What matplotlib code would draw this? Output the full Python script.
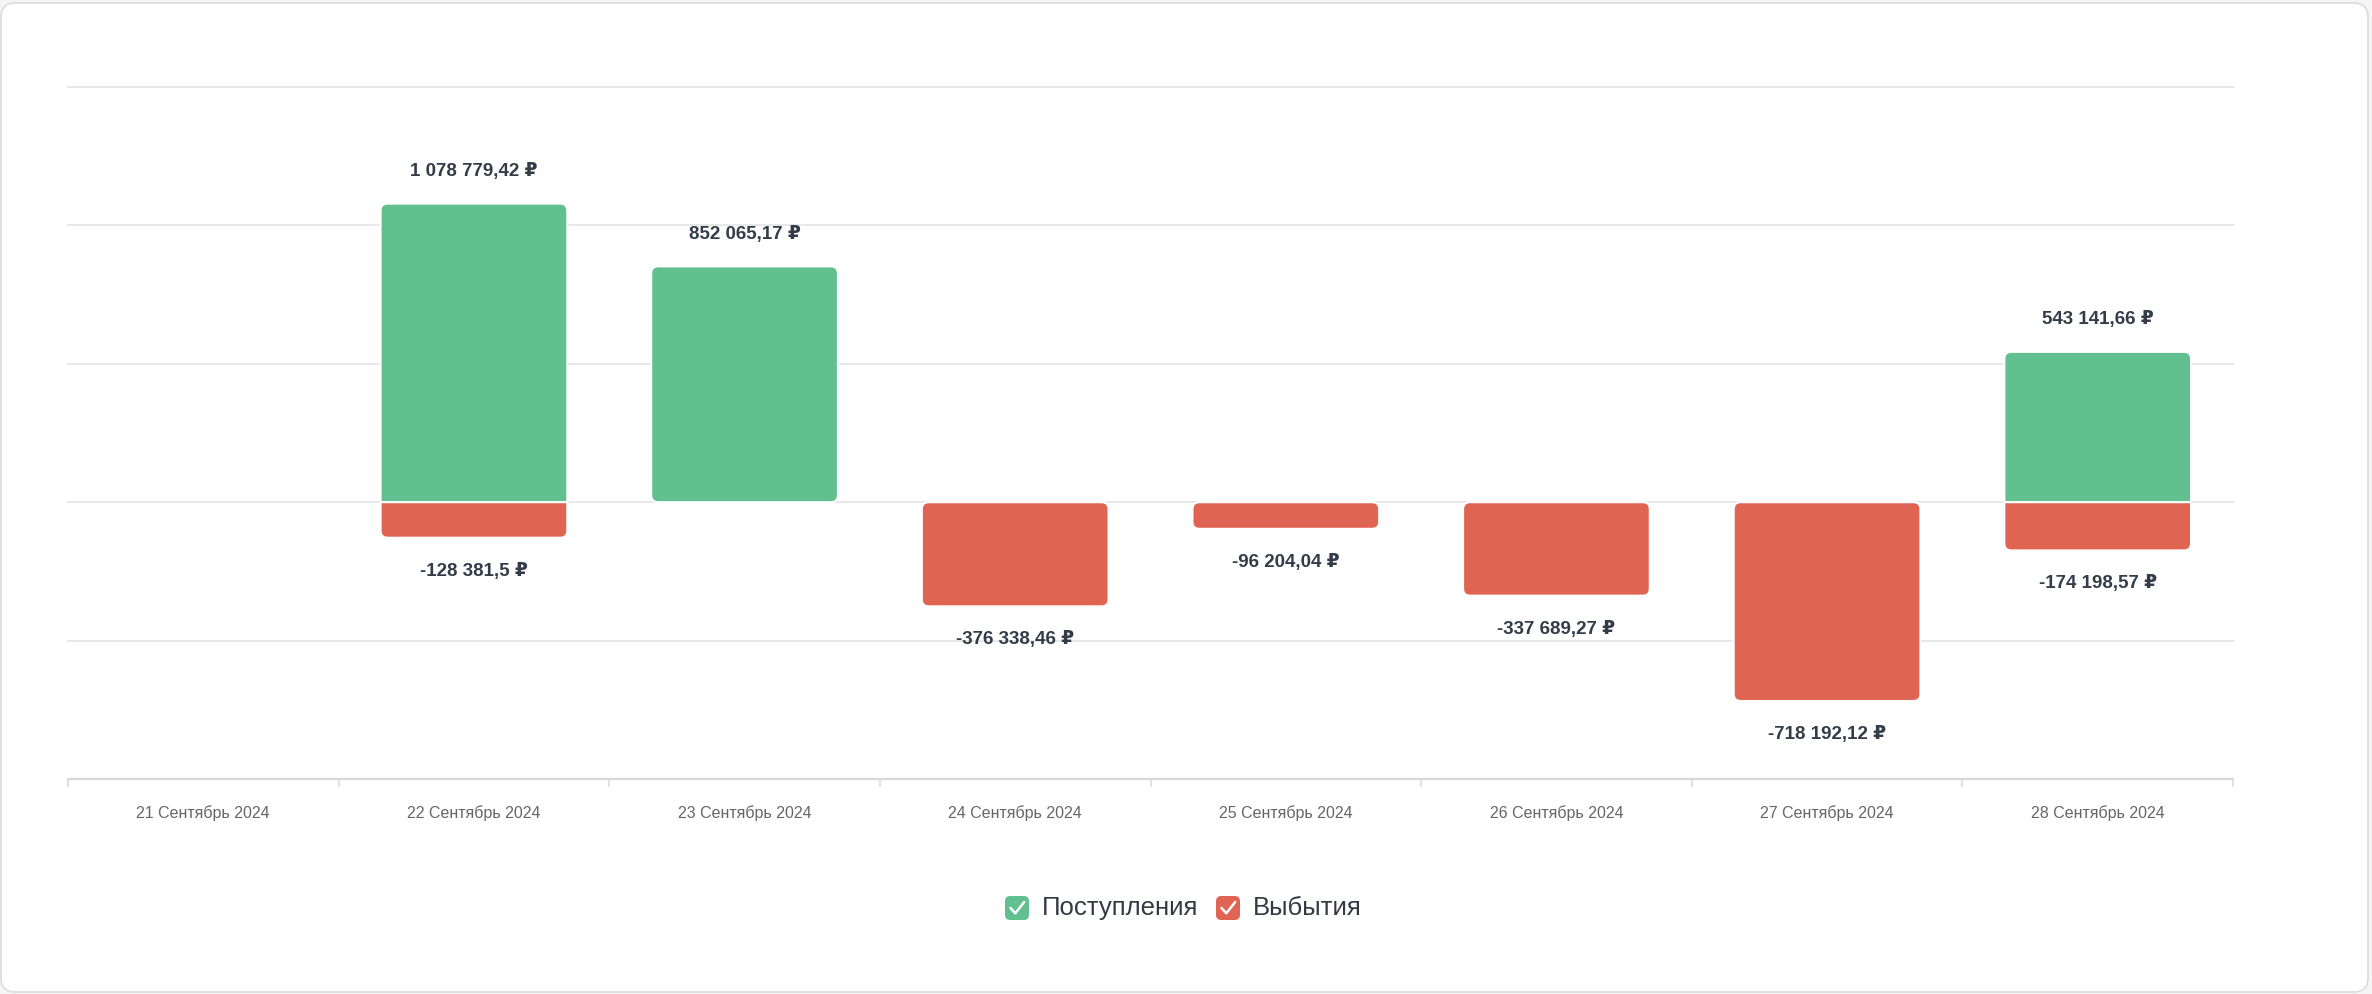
"""
Inflow / outflow bar chart for 21-28 September 2024 (stacked, rounded bars,
value labels above/below, checkbox-style legend at the bottom).
"""

import numpy as np
import matplotlib
matplotlib.use("Agg")
import matplotlib.pyplot as plt
from matplotlib.path import Path
from matplotlib.patches import PathPatch, FancyBboxPatch
from matplotlib.lines import Line2D

plt.rcParams["font.family"] = ["Liberation Sans", "DejaVu Sans"]

# ---- data -------------------------------------------------------------
dates = [
    "21 Сентябрь 2024", "22 Сентябрь 2024", "23 Сентябрь 2024", "24 Сентябрь 2024",
    "25 Сентябрь 2024", "26 Сентябрь 2024", "27 Сентябрь 2024", "28 Сентябрь 2024",
]
inflows = [0, 1078779.42, 852065.17, 0, 0, 0, 0, 543141.66]
outflows = [0, -128381.5, 0, -376338.46, -96204.04, -337689.27, -718192.12, -174198.57]
series_names = ["Поступления", "Выбытия"]
y_ticks = [-1_000_000, -500_000, 0, 500_000, 1_000_000, 1_500_000]

GREEN = "#62c090"
RED = "#e06452"
LABEL_COL = "#333d49"
TICK_COL = "#666666"
GRID_COL = "#e6e6e6"
AXIS_COL = "#d8d8d8"

W, H = 2372, 994
DPI = 100


def fmt_rub(v):
    s = f"{abs(v):,.2f}".replace(",", " ").replace(".", ",")
    s = s.rstrip("0").rstrip(",")
    return ("-" if v < 0 else "") + s + " ₽"


def bar_path(x0, x1, y0, y1, rx, ry, round_bottom, round_top):
    """Rectangle path with optional rounded corners (elliptic in data units)."""
    bx, by = (rx, ry) if round_bottom else (0, 0)
    tx, ty = (rx, ry) if round_top else (0, 0)
    verts = [
        (x0 + bx, y0), (x1 - bx, y0), (x1, y0), (x1, y0 + by),
        (x1, y1 - ty), (x1, y1), (x1 - tx, y1),
        (x0 + tx, y1), (x0, y1), (x0, y1 - ty),
        (x0, y0 + by), (x0, y0), (x0 + bx, y0), (x0 + bx, y0),
    ]
    codes = [
        Path.MOVETO, Path.LINETO, Path.CURVE3, Path.CURVE3,
        Path.LINETO, Path.CURVE3, Path.CURVE3,
        Path.LINETO, Path.CURVE3, Path.CURVE3,
        Path.LINETO, Path.CURVE3, Path.CURVE3, Path.CLOSEPOLY,
    ]
    return Path(verts, codes)


fig = plt.figure(figsize=(W / DPI, H / DPI), dpi=DPI)
fig.patch.set_facecolor("#f5f5f5")

# white card behind everything
card = FancyBboxPatch((1 / W, 2 / H), 2367 / W, 989 / H,
                      boxstyle="round,pad=0,rounding_size=0.006",
                      transform=fig.transFigure, facecolor="white",
                      edgecolor="#dcdcdc", linewidth=1.2, zorder=-10,
                      mutation_aspect=W / H)
fig.patches.append(card)

ax = fig.add_axes([68 / W, 1 - 779 / H, (2233 - 68) / W, (779 - 87) / H])
ax.set_facecolor("none")
ax.set_zorder(1)

n = len(dates)
x = np.arange(n)
ax.set_xlim(-0.5, n - 0.5)
ax.set_ylim(y_ticks[0], y_ticks[-1])

# pixel -> data unit conversion for round corners
pos = ax.get_position()
ux = (n) / (pos.width * W)
uy = (y_ticks[-1] - y_ticks[0]) / (pos.height * H)
rx, ry = 7 * ux, 7 * uy
bar_w = 0.69

for i in range(n):
    pos_v, neg_v = inflows[i], outflows[i]
    x0, x1 = x[i] - bar_w / 2, x[i] + bar_w / 2
    if pos_v > 0:
        p = bar_path(x0, x1, 0, pos_v, rx, ry, round_bottom=(neg_v == 0), round_top=True)
        ax.add_patch(PathPatch(p, facecolor=GREEN, edgecolor="white", linewidth=1.5, zorder=3))
        ax.annotate(fmt_rub(pos_v), (x[i], pos_v), xytext=(0, 23), textcoords="offset points",
                    ha="center", va="center", fontsize=13.5, fontweight="bold",
                    color=LABEL_COL, zorder=5)
    if neg_v < 0:
        p = bar_path(x0, x1, neg_v, 0, rx, ry, round_bottom=True, round_top=(pos_v == 0))
        ax.add_patch(PathPatch(p, facecolor=RED, edgecolor="white", linewidth=1.5, zorder=3))
        ax.annotate(fmt_rub(neg_v), (x[i], neg_v), xytext=(0, -24), textcoords="offset points",
                    ha="center", va="center", fontsize=13.5, fontweight="bold",
                    color=LABEL_COL, zorder=5)

# grid lines (no y labels)
for v in y_ticks[1:]:
    ax.axhline(v, color=GRID_COL, linewidth=1.3, zorder=1, clip_on=False)
ax.axhline(y_ticks[0], color=AXIS_COL, linewidth=1.6, zorder=2, clip_on=False)

for side in ["top", "right", "left", "bottom"]:
    ax.spines[side].set_visible(False)
ax.set_yticks([])

ax.set_xticks(x)
ax.set_xticklabels(dates, fontsize=11.5, color=TICK_COL)
ax.tick_params(axis="x", which="major", length=0, pad=19)
ax.set_xticks(np.arange(n + 1) - 0.5, minor=True)
ax.tick_params(axis="x", which="minor", length=6, width=1.1, color=AXIS_COL)

# ---- legend: checkbox squares with tick marks --------------------------
leg_y = 1 - 908 / H
box = 24
for cx, txt_x, col, name in [(1017, 1042, GREEN, series_names[0]),
                             (1228, 1253, RED, series_names[1])]:
    sq = FancyBboxPatch(((cx - box / 2) / W, leg_y - (box / 2) / H), box / W, box / H,
                        boxstyle="round,pad=0,rounding_size=0.0022",
                        transform=fig.transFigure, facecolor=col, edgecolor="none",
                        mutation_aspect=W / H, zorder=4)
    fig.patches.append(sq)
    cxs = np.array([-0.27, -0.07, 0.3]) * box + cx
    cys = np.array([0.0, -0.22, 0.25]) * box
    fig.lines.append(Line2D(cxs / W, leg_y + cys / H, transform=fig.transFigure,
                            color="white", linewidth=1.8, solid_capstyle="round",
                            solid_joinstyle="round", zorder=5))
    fig.text(txt_x / W, leg_y, name, ha="left", va="center", fontsize=18.5, color="#333a44")

fig.savefig("out.png", dpi=DPI, facecolor=fig.get_facecolor())
